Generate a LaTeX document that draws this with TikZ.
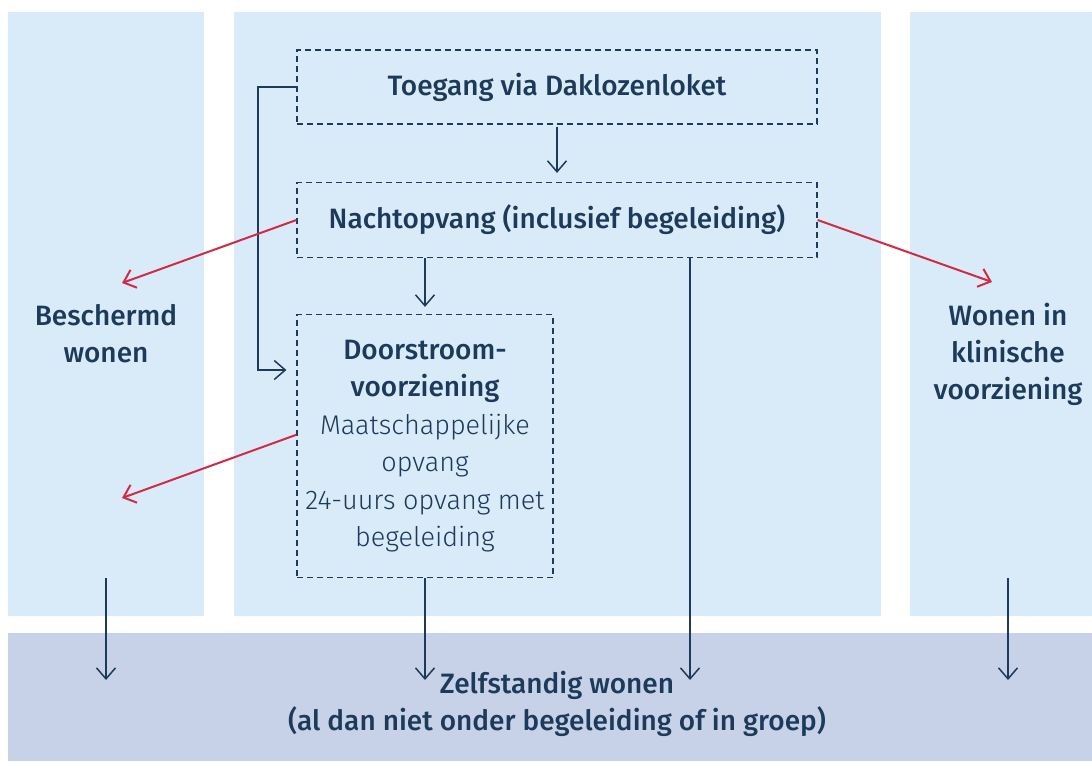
\documentclass[tikz,border=0pt]{standalone}
\usepackage{fontspec}
\setmainfont{Fira Sans}[BoldFont={Fira Sans Medium}]
\newfontfamily\lightfont{Fira Sans Light}
\usepackage{tikz}
\usetikzlibrary{arrows.meta}

\definecolor{colbg}{HTML}{D9EBF9}
\definecolor{bandbg}{HTML}{C7D1E8}
\definecolor{navy}{HTML}{1D3A5A}
\definecolor{flowred}{HTML}{D22A45}

\tikzset{
	stagebox/.style={draw=navy, line width=1.2pt, dash pattern=on 6pt off 4pt,
		text=navy, font=\bfseries\fontsize{28}{37.5}\selectfont, align=center, inner sep=0pt},
	collabel/.style={text=navy, font=\bfseries\fontsize{28}{37}\selectfont, align=center},
	flow/.style={draw=navy, line width=1.5pt, -{Straight Barb[length=11pt,width=19pt,line width=1.5pt]}},
	exitflow/.style={draw=flowred, line width=2pt, -{Straight Barb[length=11pt,width=19pt,line width=2pt]}}
}
\newcommand{\plain}[1]{{\lightfont\mdseries\fontsize{27}{37.5}\selectfont #1}}

\begin{document}
\begin{tikzpicture}[x=1pt, y=-1pt]
		{
			\useasboundingbox (0,0) rectangle (1092,761);
			% columns and band
			\fill[colbg] (8,12) rectangle (204,616);
			\fill[colbg] (234,12) rectangle (881,616);
			\fill[colbg] (910,12) rectangle (1092,616);
			\fill[bandbg] (8,633) rectangle (1092,761);

			\node[stagebox, minimum width=520pt, minimum height=74pt] (toegang) at (557,87) {Toegang via Daklozenloket};
			\node[stagebox, minimum width=520pt, minimum height=75pt] (nacht) at (557,220) {Nachtopvang (inclusief begeleiding)};
			\node[stagebox, minimum width=256pt, minimum height=263pt] (doorstroom) at (425,446)
				{Doorstroom-\\voorziening\\\plain{Maatschappelijke}\\\plain{opvang}\\\plain{24-uurs opvang met}\\\plain{begeleiding}};

			\node[collabel] (beschermd) at (106,334) {Beschermd\\wonen};
			\node[collabel] (klinisch) at (1008,354) {Wonen in\\klinische\\voorziening};
			\node[collabel] (zelf) at (557,704) {Zelfstandig wonen\\(al dan niet onder begeleiding of in groep)};

			% free ends
			\coordinate (b-in) at (122,283);
			\coordinate (b-in2) at (122,498);
			\coordinate (k-in) at (992,282);
			\coordinate (bypass) at (258,370);

			\draw[flow, shorten <=2pt, shorten >=9pt] (toegang) -- (nacht);
			\draw[flow, shorten >=7pt] (doorstroom.north |- nacht.south) -- (doorstroom.north);
			\draw[flow, shorten >=10pt] (toegang.west) -| (bypass) -- (bypass -| doorstroom.west);

			\draw[exitflow] (nacht.west) -- (b-in);
			\draw[exitflow] (doorstroom.175) -- (b-in2);
			\draw[exitflow] (nacht.east) -- (k-in);

			% into the band
			\draw[flow] (690,257) -- (690,680);
			\draw[flow] (doorstroom.south) -- (425,680);
			\foreach \x in {106,1008}
			{
				\draw[flow] (\x,578) -- (\x,680);
			}
		}
	\end{tikzpicture}
\end{document}
